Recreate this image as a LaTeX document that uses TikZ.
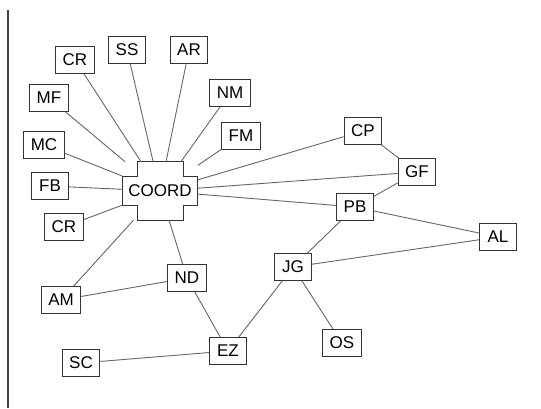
\documentclass[tikz,border=0pt]{standalone}
\usepackage{fontspec}
\setmainfont{Liberation Sans}
\usetikzlibrary{calc}

\begin{document}
\begin{tikzpicture}[x=1pt,y=-1pt,
    box/.style={draw=black!80,fill=white,line width=1.1pt,minimum width=37pt,minimum height=26.5pt,inner xsep=7pt,font=\fontsize{17}{20}\selectfont},
    edge/.style={draw=black!60,line width=0.9pt}]
\useasboundingbox (0,0) rectangle (541,408);

% Left rule
\draw[black!75,line width=2pt] (8,10) -- (8,408);

% Centre node (cross shape)
\node[minimum width=75pt,minimum height=58pt,inner sep=0pt,font=\fontsize{17}{20}\selectfont] (coord) at (160,191) {COORD};
\draw[black!80,line width=1.1pt] ([xshift=15pt]coord.north west) -- ([xshift=-14pt]coord.north east)
    |- ([yshift=-15pt]coord.north east) -- ([yshift=15pt]coord.south east)
    -| ([xshift=-14pt]coord.south east) -- ([xshift=15pt]coord.south west)
    |- ([yshift=15pt]coord.south west) -- ([yshift=-15pt]coord.north west)
    -| ([xshift=15pt]coord.north west) -- cycle;

% Boxes
\foreach \name/\label/\x/\y in {crt/CR/75/60, ss/SS/127/50, ar/AR/189/50, nm/NM/230/93,
    mf/MF/49/98, fm/FM/241/136, mc/MC/44/145, fb/FB/50/186, crb/CR/64/227,
    cp/CP/363/131, gf/GF/417/172, pb/PB/355/207, al/AL/498/237, jg/JG/293/267,
    nd/ND/187/278, am/AM/61/300, ez/EZ/228/351, os/OS/342/343, sc/SC/81/363}
    \node[box] (\name) at (\x,\y) {\label};

% Links from the centre
\foreach \b in {crt,ss,ar,nm,fm,mf,mc,fb,crb,cp,gf,pb,am,nd}
    \draw[edge] (coord) -- (\b);

% Other links
\foreach \a/\b in {cp/gf, gf/pb, pb/al, pb/jg, jg/al, jg/os, jg/ez, nd/ez, am/nd, sc/ez}
    \draw[edge] (\a) -- (\b);
\end{tikzpicture}
\end{document}
